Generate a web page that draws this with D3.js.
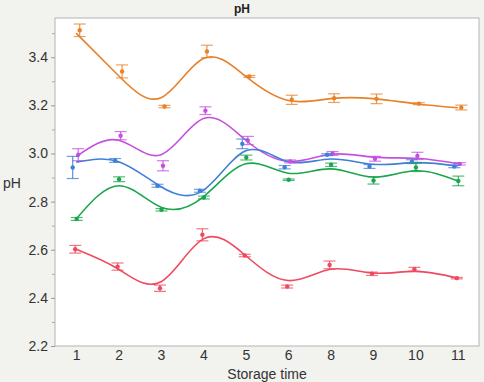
<!DOCTYPE html>
<html>
<head>
<meta charset="utf-8">
<script src="https://cdn.jsdelivr.net/npm/d3@7"></script>
<style>
  body { margin: 0; background: #f2f2ef; }
  svg { display: block; font-family: "Liberation Sans", Arial, sans-serif; }
</style>
</head>
<body>
<script>
// storage time categories (no 7 in the original)
var times = ['1', '2', '3', '4', '5', '6', '8', '9', '10', '11'];
var yTicks = [2.2, 2.4, 2.6, 2.8, 3.0, 3.2, 3.4];

// group means, half error bar, and the smoothing spline value at each time
var orangeMean = [3.512, 3.341, 3.195, 3.424, 3.320, 3.223, 3.230, 3.227, 3.207, 3.191];
var orangeErr  = [0.026, 0.027, 0.005, 0.026, 0.004, 0.019, 0.018, 0.020, 0.004, 0.010];
var orangeFit  = [3.500, 3.323, 3.232, 3.395, 3.320, 3.220, 3.228, 3.228, 3.207, 3.190];

var purpleMean = [2.995, 3.074, 2.949, 3.178, 3.054, 2.967, 3.000, 2.978, 2.990, 2.957];
var purpleErr  = [0.025, 0.017, 0.021, 0.016, 0.017, 0.006, 0.008, 0.010, 0.015, 0.005];
var purpleFit  = [2.987, 3.055, 2.995, 3.145, 3.055, 2.967, 2.997, 2.985, 2.980, 2.958];

var blueMean = [2.942, 2.971, 2.866, 2.845, 3.040, 2.943, 2.995, 2.946, 2.966, 2.946];
var blueErr  = [0.046, 0.008, 0.006, 0.006, 0.020, 0.007, 0.004, 0.008, 0.008, 0.005];
var blueFit  = [2.964, 2.966, 2.862, 2.847, 3.011, 2.966, 2.977, 2.955, 2.962, 2.948];

var greenMean = [2.728, 2.893, 2.766, 2.817, 2.983, 2.891, 2.953, 2.888, 2.942, 2.886];
var greenErr  = [0.006, 0.010, 0.005, 0.006, 0.010, 0.003, 0.007, 0.015, 0.017, 0.020];
var greenFit  = [2.728, 2.866, 2.777, 2.820, 2.957, 2.918, 2.936, 2.902, 2.928, 2.886];

var redMean = [2.602, 2.530, 2.440, 2.662, 2.576, 2.447, 2.537, 2.500, 2.519, 2.482];
var redErr  = [0.016, 0.015, 0.013, 0.025, 0.005, 0.006, 0.016, 0.007, 0.008, 0.003];
var redFit  = [2.602, 2.519, 2.467, 2.645, 2.575, 2.472, 2.519, 2.503, 2.510, 2.482];

var series = [
  { name: 'orange', mean: orangeMean, err: orangeErr, fit: orangeFit },
  { name: 'purple', mean: purpleMean, err: purpleErr, fit: purpleFit },
  { name: 'blue',   mean: blueMean,   err: blueErr,   fit: blueFit },
  { name: 'green',  mean: greenMean,  err: greenErr,  fit: greenFit },
  { name: 'red',    mean: redMean,    err: redErr,    fit: redFit }
];

// look: colour and the small sideways dodge of the means
var colors = { orange: '#e7812a', purple: '#c64fe0', blue: '#3f7fd8', green: '#19a64c', red: '#ef4a5f' };
var dodge  = { orange: 3.5, purple: 2, blue: -3.5, green: 0.5, red: -1 };

var W = 484, H = 382;
var plot = { left: 55, top: 18, right: 479, bottom: 346 };

var svg = d3.select('body').append('svg')
    .attr('width', W)
    .attr('height', H);

var x = d3.scalePoint()
    .domain(times)
    .range([plot.left, plot.right])
    .padding(0.5);

var y = d3.scaleLinear()
    .domain([2.2, 3.563])
    .range([plot.bottom, plot.top]);

// plot background + frame
svg.append('rect')
    .attr('x', plot.left)
    .attr('y', plot.top)
    .attr('width', plot.right - plot.left)
    .attr('height', plot.bottom - plot.top)
    .attr('fill', '#fff')
    .attr('stroke', '#b4b4b4')
    .attr('stroke-width', 1);

// y axis (labels every 0.2, small ticks every 0.1)
var yAxis = d3.axisLeft(y)
    .tickValues(yTicks)
    .tickFormat(d3.format('.1f'))
    .tickSize(4)
    .tickPadding(3);

var gy = svg.append('g')
    .attr('transform', 'translate(' + plot.left + ',0)')
    .call(yAxis);
gy.select('.domain').remove();
gy.selectAll('line').attr('stroke', '#999');
gy.selectAll('text')
    .attr('font-size', '14px')
    .attr('fill', '#333')
    .attr('font-family', '"Liberation Sans", Arial, sans-serif');

var gyMinor = svg.append('g')
    .attr('transform', 'translate(' + plot.left + ',0)')
    .call(d3.axisLeft(y).tickValues([2.3, 2.5, 2.7, 2.9, 3.1, 3.3, 3.5]).tickSize(3).tickFormat(''));
gyMinor.select('.domain').remove();
gyMinor.selectAll('line').attr('stroke', '#aaa');

// x axis
var xAxis = d3.axisBottom(x).tickSize(0).tickPadding(4);
var gx = svg.append('g')
    .attr('transform', 'translate(0,' + plot.bottom + ')')
    .call(xAxis);
gx.select('.domain').remove();
gx.selectAll('text')
    .attr('font-size', '14px')
    .attr('fill', '#333')
    .attr('font-family', '"Liberation Sans", Arial, sans-serif');

// titles
svg.append('text')
    .attr('x', W / 2)
    .attr('y', 13)
    .attr('text-anchor', 'middle')
    .attr('font-size', '12px')
    .attr('font-weight', 'bold')
    .attr('fill', '#222')
    .text('pH');

svg.append('text')
    .attr('x', (plot.left + plot.right) / 2)
    .attr('y', 379)
    .attr('text-anchor', 'middle')
    .attr('font-size', '14px')
    .attr('fill', '#333')
    .text('Storage time');

svg.append('text')
    .attr('x', 3)
    .attr('y', 188)
    .attr('font-size', '14px')
    .attr('fill', '#333')
    .text('pH');

// smoothing curves
var line = d3.line()
    .x(function (d, i) { return x(times[i]); })
    .y(function (d) { return y(d); })
    .curve(d3.curveNatural);

svg.selectAll('.fit')
  .data(series)
  .enter()
  .append('path')
    .attr('class', 'fit')
    .attr('d', function (s) { return line(s.fit); })
    .attr('fill', 'none')
    .attr('stroke', function (s) { return colors[s.name]; })
    .attr('stroke-width', 1.6);

// error bars and means
var groups = svg.selectAll('.grp')
  .data(series)
  .enter()
  .append('g')
    .attr('class', 'grp')
    .attr('stroke', function (s) { return colors[s.name]; })
    .attr('fill', function (s) { return colors[s.name]; });

var pts = groups.selectAll('g')
  .data(function (s) {
    return s.mean.map(function (m, i) {
      return { t: times[i], m: m, e: s.err[i], dx: dodge[s.name] };
    });
  })
  .enter()
  .append('g')
    .attr('transform', function (d) { return 'translate(' + (x(d.t) + d.dx) + ',0)'; });

var cap = 6;
pts.append('line')
    .attr('y1', function (d) { return y(d.m - d.e); })
    .attr('y2', function (d) { return y(d.m + d.e); })
    .attr('stroke-width', 1.2)
    .attr('stroke-opacity', 0.85);
pts.append('line')
    .attr('x1', -cap).attr('x2', cap)
    .attr('y1', function (d) { return y(d.m + d.e); })
    .attr('y2', function (d) { return y(d.m + d.e); })
    .attr('stroke-width', 1.2)
    .attr('stroke-opacity', 0.75);
pts.append('line')
    .attr('x1', -cap).attr('x2', cap)
    .attr('y1', function (d) { return y(d.m - d.e); })
    .attr('y2', function (d) { return y(d.m - d.e); })
    .attr('stroke-width', 1.2)
    .attr('stroke-opacity', 0.75);
pts.append('circle')
    .attr('cy', function (d) { return y(d.m); })
    .attr('r', 2.2)
    .attr('stroke', 'none');
</script>
</body>
</html>
